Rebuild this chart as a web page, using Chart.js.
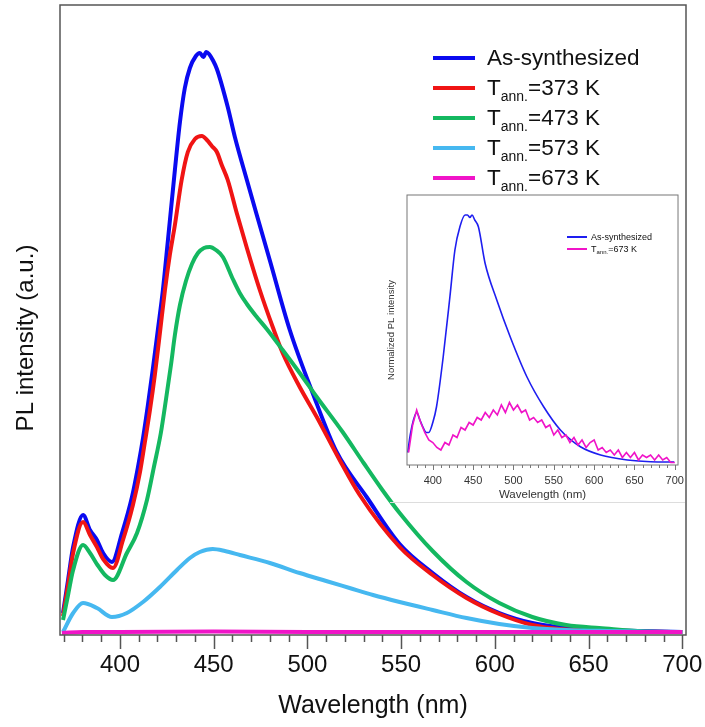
<!DOCTYPE html>
<html>
<head>
<meta charset="utf-8">
<script src="https://cdn.jsdelivr.net/npm/chart.js@4.4.1/dist/chart.umd.min.js"></script>
<style>
  body { margin: 0; background: #fff; }
  #wrap { position: relative; width: 705px; height: 727px; font-family: 'Liberation Sans', Arial, sans-serif; color: #111; }
  #main { position: absolute; left: 0; top: 0; }
  .legend { position: absolute; }
  .legend .row { display: flex; align-items: center; white-space: nowrap; }
  .legend .sw { display: inline-block; flex: none; }
  #legend { left: 433px; top: 43px; font-size: 22.5px; }
  #legend .row { height: 30px; }
  #legend .sw { width: 42px; height: 4px; margin-right: 12px; }
  #legend sub { font-size: 14px; line-height: 0; vertical-align: -6px; }
  #inset { position: absolute; left: 385px; top: 185px; width: 300px; height: 317px; }
  #inset .rule { position: absolute; left: 5px; right: 0; bottom: -1px; border-bottom: 1px solid #ddd; }
  #insetChart { position: absolute; left: 0; top: 0; }
  #insetLegend { left: 182px; top: 46px; font-size: 9px; }
  #insetLegend .row { height: 12px; }
  #insetLegend .sw { width: 20px; height: 2px; margin-right: 4px; }
  #insetLegend sub { font-size: 6px; line-height: 0; vertical-align: -2px; }
</style>
</head>
<body>
<div id="wrap">
  <canvas id="main" width="705" height="727"></canvas>
  <div id="legend" class="legend">
    <div class="row"><span class="sw" style="background:#0a0af0"></span><span>As-synthesized</span></div>
    <div class="row"><span class="sw" style="background:#f01414"></span><span>T<sub>ann.</sub>=373 K</span></div>
    <div class="row"><span class="sw" style="background:#14b860"></span><span>T<sub>ann.</sub>=473 K</span></div>
    <div class="row"><span class="sw" style="background:#46b8f0"></span><span>T<sub>ann.</sub>=573 K</span></div>
    <div class="row"><span class="sw" style="background:#f014c8"></span><span>T<sub>ann.</sub>=673 K</span></div>
  </div>
  <div id="inset">
    <canvas id="insetChart" width="300" height="317"></canvas>
    <div class="rule"></div>
    <div id="insetLegend" class="legend">
      <div class="row"><span class="sw" style="background:#1e1ef0"></span><span>As-synthesized</span></div>
      <div class="row"><span class="sw" style="background:#f014c8"></span><span>T<sub>ann.</sub>=673 K</span></div>
    </div>
  </div>
</div>
<script>
// main panel: PL intensity (arbitrary units) vs wavelength (nm)
var wlAsSynth = [369.6, 372.3, 375, 380.3, 384, 387.7, 391, 395.7, 401.1, 406.4, 409.6, 412.3, 414.9, 417.6, 420.2, 422.9, 425.6, 429.3, 432, 434.6, 437.3, 440.5, 442.6, 444.5, 446, 447.5, 449.5, 451.7, 457.5, 461.3, 467.7, 473, 479.9, 490.6, 502.8, 515.6, 531.6, 549.2, 566.8, 584.9, 602.4, 620, 634.4, 655.7, 680, 700];
var plAsSynth = [22, 55, 88, 120, 105, 95, 82, 73, 102, 138, 168, 197, 230, 267, 305, 345, 395, 465, 513, 547, 567, 579, 582, 578, 583, 581, 575, 566, 528, 498, 455, 420, 375, 305, 242, 183, 138, 91, 62, 38, 22, 12, 8, 5, 4, 3];

var wl373 = [369.6, 372.3, 375, 380.3, 384, 387.7, 391, 396.3, 401.6, 406.9, 410.7, 413.3, 416, 418.6, 421.3, 424, 426.6, 429.3, 432.9, 436.2, 440, 443.7, 446.4, 449, 451.7, 454.3, 457.5, 462.3, 467.7, 474.6, 481.5, 486.8, 495.9, 505, 517.2, 527.9, 549.2, 566.8, 584.9, 602.4, 620, 634.4, 660, 700];
var pl373 = [19, 50, 82, 113, 100, 88, 76, 67, 95, 130, 163, 193, 225, 260, 302, 345, 380, 410, 455, 483, 496, 499, 495, 489, 483, 470, 455, 422, 387, 345, 308, 282, 248, 218, 175, 140, 88, 60, 37, 21, 10, 6, 4, 3];

var wl473 = [369.6, 372.3, 375, 380.3, 384, 388, 392, 396.3, 403.7, 409.1, 414.4, 418.1, 421.8, 424.5, 427.2, 429.3, 432, 435.2, 438.4, 441.6, 444.8, 448, 451.2, 454.9, 460.2, 463.9, 467.7, 473, 478.3, 486.8, 495.9, 505, 518.8, 530, 540, 549.2, 566.8, 584.9, 602.4, 620, 638.1, 655.7, 691.4, 700];
var pl473 = [15, 40, 65, 90, 82, 70, 60, 55, 82, 102, 135, 168, 202, 235, 270, 300, 330, 354, 371, 382, 387, 388, 385, 378, 356, 342, 331, 318, 306, 285, 262, 238, 203, 172, 145, 122, 84, 53, 32, 18, 10, 7, 3, 3];

var wl573 = [369.6, 375, 380.3, 387.7, 395.7, 403.7, 412.3, 421.3, 430.4, 437.3, 442.6, 449.5, 456, 464, 480, 495.9, 510, 522.5, 535, 549.2, 566.8, 584.9, 602.4, 620, 638, 660, 700];
var pl573 = [3, 22, 32, 27, 18, 22, 33, 48, 65, 77, 83, 86, 84, 80, 72, 62, 54, 47, 40, 33, 25, 17, 11, 7, 5, 4, 3];

var wl673 = [369, 380, 400, 450, 500, 550, 600, 650, 700];
var pl673 = [2, 3, 3, 3.5, 3, 3, 3, 3, 3];

var xLabels = [400, 450, 500, 550, 600, 650, 700];

// inset: normalized spectra
var wlInsetAs = [368.9, 372, 376, 380, 384, 388, 392, 395, 400, 404.6, 412.9, 421.2, 427.4, 433.6, 440, 443, 446, 448.6, 452, 456.5, 464.8, 479.3, 495.9, 516.6, 537.4, 558.2, 583, 608, 641.2, 670, 699.3];
var nAsSynth = [0.05, 0.12, 0.18, 0.21, 0.18, 0.15, 0.13, 0.13, 0.17, 0.233, 0.433, 0.673, 0.86, 0.953, 1.0, 1.0, 0.99, 1.0, 0.98, 0.953, 0.807, 0.66, 0.513, 0.353, 0.233, 0.14, 0.073, 0.04, 0.02, 0.013, 0.012];

var wlInset673 = [370, 375, 380, 385, 390, 395, 400, 405, 410, 415, 420, 425, 430, 435, 440, 445, 450, 455, 460, 465, 470, 475, 480, 485, 490, 495, 500, 505, 510, 515, 520, 525, 530, 535, 540, 545, 550, 555, 560, 565, 570, 575, 580, 585, 590, 595, 600, 605, 610, 615, 620, 625, 630, 635, 640, 645, 650, 655, 660, 665, 670, 675, 680, 685, 690, 695, 700];
var n673 = [0.05, 0.16, 0.22, 0.17, 0.13, 0.10, 0.09, 0.07, 0.06, 0.09, 0.08, 0.12, 0.11, 0.15, 0.14, 0.17, 0.16, 0.19, 0.18, 0.21, 0.19, 0.22, 0.20, 0.24, 0.21, 0.25, 0.22, 0.24, 0.21, 0.22, 0.18, 0.19, 0.17, 0.18, 0.15, 0.16, 0.12, 0.14, 0.11, 0.12, 0.09, 0.11, 0.08, 0.10, 0.07, 0.09, 0.10, 0.06, 0.07, 0.05, 0.06, 0.04, 0.06, 0.03, 0.05, 0.03, 0.05, 0.02, 0.04, 0.03, 0.04, 0.02, 0.04, 0.02, 0.03, 0.01, 0.01];

var FONT = "'Liberation Sans', Arial, sans-serif";
Chart.defaults.font.family = FONT;
Chart.defaults.color = '#111';

function pts(xs, ys) {
    return xs.map(function (x, i) { return { x: x, y: ys[i] }; });
}

// box around the plot area, major/minor tick marks below the x axis,
// and an optional vertical y title placed at a given height
var framePlugin = {
    id: 'frame',
    afterDraw: function (chart, args, opts) {
        var ctx = chart.ctx, a = chart.chartArea, x = chart.scales.x;
        ctx.save();
        ctx.strokeStyle = opts.color;
        ctx.lineWidth = opts.width;
        ctx.strokeRect(a.left, a.top, a.right - a.left, a.bottom - a.top);
        ctx.beginPath();
        for (var v = 370; v <= 700; v += 10) {
            var px = Math.round(x.getPixelForValue(v)) + 0.5;
            var len = v % 50 === 0 ? opts.major : opts.minor;
            ctx.moveTo(px, a.bottom);
            ctx.lineTo(px, a.bottom + len);
        }
        ctx.stroke();
        if (opts.yTitle) {
            ctx.translate(opts.yTitle.x, opts.yTitle.y);
            ctx.rotate(-Math.PI / 2);
            ctx.font = opts.yTitle.font;
            ctx.fillStyle = '#111';
            ctx.textAlign = 'center';
            ctx.textBaseline = 'middle';
            ctx.fillText(opts.yTitle.text, 0, 0);
        }
        ctx.restore();
    }
};

var mainChart = new Chart(document.getElementById('main'), {
    type: 'line',
    data: {
        datasets: [
            { data: pts(wlAsSynth, plAsSynth), borderColor: '#0a0af0', order: 5 },
            { data: pts(wl373, pl373), borderColor: '#f01414', order: 4 },
            { data: pts(wl473, pl473), borderColor: '#14b860', order: 3 },
            { data: pts(wl573, pl573), borderColor: '#46b8f0', order: 2 },
            { data: pts(wl673, pl673), borderColor: '#f014c8', order: 1 }
        ]
    },
    options: {
        responsive: false,
        animation: false,
        layout: { padding: { top: 5, right: 19, left: 0, bottom: 0 } },
        elements: {
            point: { radius: 0 },
            line: { borderWidth: 4, cubicInterpolationMode: 'monotone' }
        },
        plugins: {
            legend: { display: false },
            tooltip: { enabled: false },
            frame: {
                color: '#555', width: 1.5, major: 14, minor: 7,
                yTitle: { text: 'PL intensity (a.u.)', x: 26, y: 338, font: "24px " + FONT }
            }
        },
        scales: {
            x: {
                type: 'linear', min: 368, max: 702,
                grid: { display: false }, border: { display: false },
                afterBuildTicks: function (s) { s.ticks = xLabels.map(function (v) { return { value: v }; }); },
                afterFit: function (s) { s.height = 92; s.paddingLeft = 0; s.paddingRight = 0; },
                ticks: { font: { size: 24 }, color: '#111', padding: 8, maxRotation: 0, autoSkip: false },
                title: { display: true, text: 'Wavelength (nm)', font: { size: 25 }, color: '#111', padding: { top: 0, bottom: 6 } }
            },
            y: {
                min: 0, max: 630,
                grid: { display: false }, border: { display: false },
                ticks: { display: false },
                afterFit: function (s) { s.width = 60; }
            }
        }
    },
    plugins: [framePlugin]
});

var insetChart = new Chart(document.getElementById('insetChart'), {
    type: 'line',
    data: {
        datasets: [
            { data: pts(wlInsetAs, nAsSynth), borderColor: '#1e1ef0', borderWidth: 1.6, cubicInterpolationMode: 'monotone', order: 2 },
            { data: pts(wlInset673, n673), borderColor: '#f014c8', borderWidth: 1.6, tension: 0, order: 1 }
        ]
    },
    options: {
        responsive: false,
        animation: false,
        layout: { padding: { top: 10, right: 3, left: 0, bottom: 0 } },
        elements: { point: { radius: 0 } },
        plugins: {
            legend: { display: false },
            tooltip: { enabled: false },
            frame: { color: '#777', width: 1, major: 5, minor: 3 }
        },
        scales: {
            x: {
                type: 'linear', min: 368, max: 704,
                grid: { display: false }, border: { display: false },
                afterBuildTicks: function (s) { s.ticks = xLabels.map(function (v) { return { value: v }; }); },
                afterFit: function (s) { s.height = 37; },
                ticks: { font: { size: 11 }, color: '#333', padding: 1, maxRotation: 0, autoSkip: false },
                title: { display: true, text: 'Wavelength (nm)', font: { size: 11.5 }, color: '#333', padding: { top: 0, bottom: 0 } }
            },
            y: {
                min: 0, max: 1.08,
                grid: { display: false }, border: { display: false },
                ticks: { display: false },
                afterFit: function (s) { s.width = 22; },
                title: { display: true, text: 'Normalized PL intensity', font: { size: 9.5 }, color: '#333', padding: { top: 1, bottom: 0 } }
            }
        }
    },
    plugins: [framePlugin]
});
</script>
</body>
</html>
